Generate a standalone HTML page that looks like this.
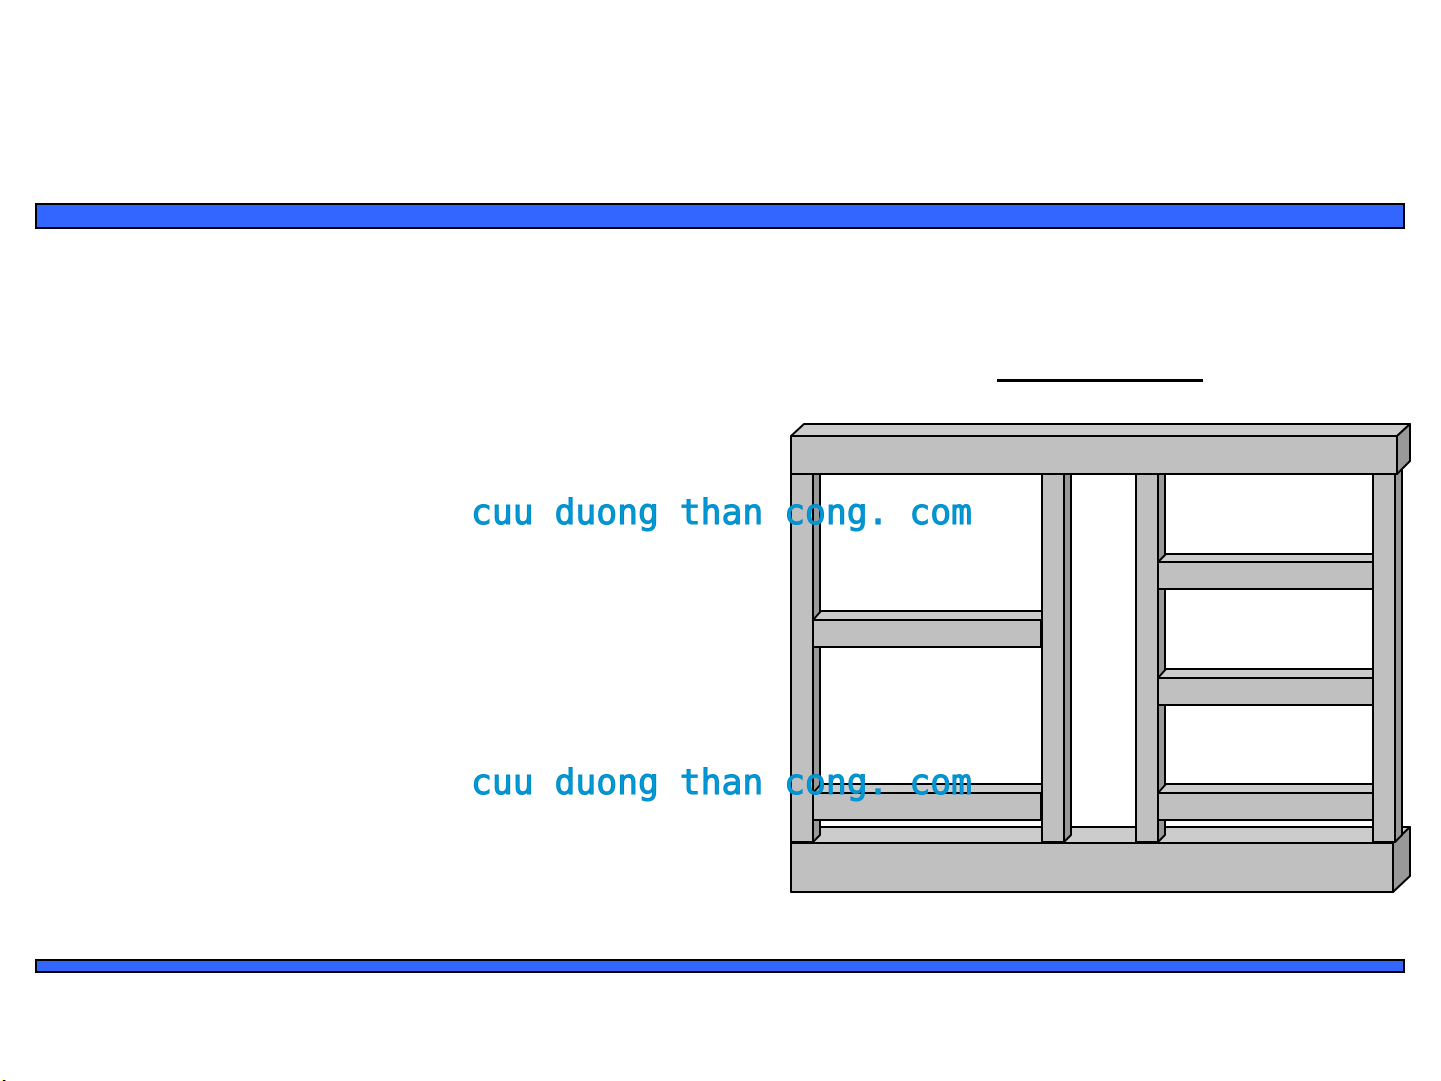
<!DOCTYPE html>
<html>
<head>
<meta charset="utf-8">
<style>
html,body{margin:0;padding:0;background:#fff;}
body{width:1441px;height:1081px;overflow:hidden;position:relative;}
svg{position:absolute;left:0;top:0;}
text{font-family:"DejaVu Sans Mono","Liberation Mono",monospace;font-size:34.7px;fill:#0099d6;stroke:#008cc8;stroke-width:1px;}
</style>
</head>
<body>
<svg width="1441" height="1081" viewBox="0 0 1441 1081">
<rect x="36" y="204" width="1368" height="24" fill="#3366ff" stroke="#000" stroke-width="2"/>
<rect x="36" y="960" width="1368" height="12" fill="#3366ff" stroke="#000" stroke-width="2"/>
<rect x="997" y="379" width="206" height="3" fill="#000"/>

<g stroke="#000" stroke-width="2" stroke-linejoin="round">
<!-- base -->
<polygon points="807,843 807,827 1410,827 1393,843" fill="#cccccc"/>
<rect x="791" y="843" width="602" height="49" fill="#c0c0c0"/>
<polygon points="1393,843 1410,827 1410,876 1393,892" fill="#999999"/>

<!-- post sides -->
<polygon points="813,474 820,468 820,835 813,842" fill="#999999"/>
<polygon points="1064,474 1071,468 1071,835 1064,842" fill="#999999"/>
<polygon points="1158,474 1165,468 1165,835 1158,842" fill="#999999"/>
<polygon points="1395,474 1402,468 1402,835 1395,842" fill="#999999"/>

<!-- rails -->
<polygon points="813,620 821,611 1042,611 1042,620" fill="#cccccc"/>
<rect x="813" y="620" width="228" height="27" fill="#c0c0c0"/>
<polygon points="813,793 821,784 1042,784 1042,793" fill="#cccccc"/>
<rect x="813" y="793" width="228" height="27" fill="#c0c0c0"/>

<polygon points="1158,562 1166,554 1373,554 1373,562" fill="#cccccc"/>
<rect x="1158" y="562" width="215" height="27" fill="#c0c0c0"/>
<polygon points="1158,678 1166,669 1373,669 1373,678" fill="#cccccc"/>
<rect x="1158" y="678" width="215" height="27" fill="#c0c0c0"/>
<polygon points="1158,793 1166,784 1373,784 1373,793" fill="#cccccc"/>
<rect x="1158" y="793" width="215" height="27" fill="#c0c0c0"/>

<!-- post fronts -->
<rect x="791" y="474" width="22" height="368" fill="#c0c0c0"/>
<rect x="1042" y="474" width="22" height="368" fill="#c0c0c0"/>
<rect x="1136" y="474" width="22" height="368" fill="#c0c0c0"/>
<rect x="1373" y="474" width="22" height="368" fill="#c0c0c0"/>

<!-- top beam -->
<polygon points="791,436 804,424 1410,424 1397,436" fill="#cccccc"/>
<rect x="791" y="436" width="606" height="38" fill="#c0c0c0"/>
<polygon points="1397,436 1410,424 1410,461 1397,474" fill="#999999"/>
</g>

<text x="471" y="524" textLength="501" lengthAdjust="spacing" xml:space="preserve">cuu duong than cong. com</text>
<text x="471" y="794" textLength="501" lengthAdjust="spacing" xml:space="preserve">cuu duong than cong. com</text>

<rect x="2" y="1080" width="1" height="1" fill="#ffee00"/>
<rect x="3" y="1080" width="2" height="1" fill="#000"/>
<rect x="5" y="1080" width="1" height="1" fill="#00ccee"/>
</svg>
</body>
</html>
